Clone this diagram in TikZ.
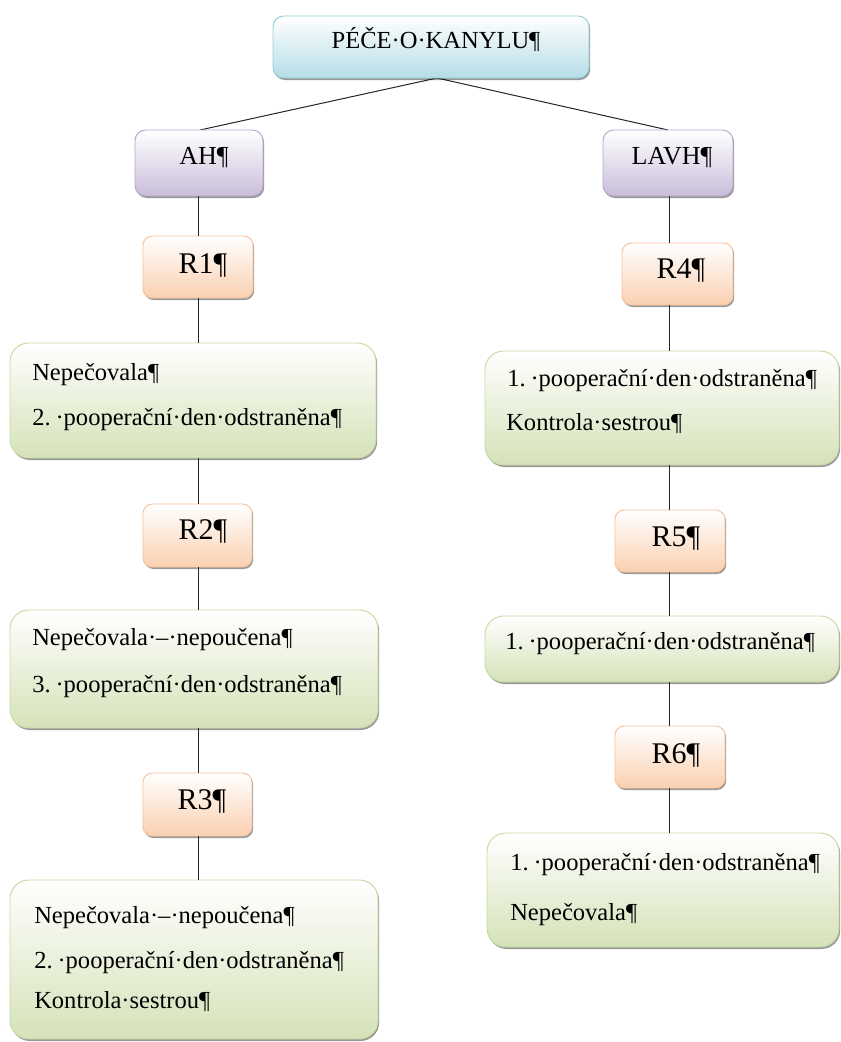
\documentclass[tikz,border=0pt]{standalone}
\usepackage{fontspec}
\setmainfont{Liberation Serif}
\usetikzlibrary{fit,shadows}

\definecolor{blueFill}{HTML}{B5DDE7}
\definecolor{blueLine}{HTML}{93CDDC}
\definecolor{lilacFill}{HTML}{C9BDDA}
\definecolor{lilacLine}{HTML}{B6A6CC}
\definecolor{peachFill}{HTML}{FAD0B0}
\definecolor{peachLine}{HTML}{F7C29C}
\definecolor{greenFill}{HTML}{D5E2B8}
\definecolor{greenLine}{HTML}{C6D9A0}

% a panel spanning two corner points, given in pixel units
\newcommand\panel[6]{%
  \path (#2,#3) coordinate (#1-nw) (#4,#5) coordinate (#1-se);
  \node[#6, fit=(#1-nw)(#1-se)] (#1) {};}

\begin{document}
\begin{tikzpicture}[x=0.75pt,y=-0.75pt,
  boxbase/.style={draw, line width=0.7pt, inner sep=0pt,
    drop shadow={shadow xshift=0.9pt, shadow yshift=-1.5pt, opacity=0.4, fill=black}},
  rootbox/.style={boxbase, rounded corners=8pt, draw=blueLine, top color=white, bottom color=blueFill},
  groupbox/.style={boxbase, rounded corners=8pt, draw=lilacLine, top color=white, bottom color=lilacFill},
  rbox/.style={boxbase, rounded corners=7pt, draw=peachLine, top color=white, bottom color=peachFill},
  notebox/.style={boxbase, rounded corners=14pt, draw=greenLine, top color=white, bottom color=greenFill},
  txt/.style={inner sep=0pt, font=\fontsize{18.4}{20}\selectfont},
  rtxt/.style={inner sep=0pt, anchor=base, font=\fontsize{22.5}{24}\selectfont},
  gtxt/.style={inner sep=0pt, anchor=base, font=\fontsize{19.5}{22}\selectfont},
  line/.style={draw=black!85, line width=0.75pt}
]
\useasboundingbox (0,0) rectangle (840,1042);

% spine positions of the two columns and the branching point under the title
\coordinate (spineL) at (198,0);
\coordinate (spineR) at (669,0);
\coordinate (hub) at (437,78);

% connectors (drawn first, panels sit on top)
\draw[line] (hub) -- (200,130) coordinate (ahTop);
\draw[line] (hub) -- (668,130) coordinate (lavhTop);

% boxes
\panel{root}{273}{16}{589}{78}{rootbox}
\panel{AH}{135}{130}{263}{196}{groupbox}
\panel{LAVH}{603}{130}{733}{196}{groupbox}

\panel{R1}{143}{236}{253}{298}{rbox}
\panel{N1}{10}{343}{376}{458}{notebox}
\panel{R2}{143}{504}{252}{567}{rbox}
\panel{N2}{10}{610}{378}{728}{notebox}
\panel{R3}{143}{773}{252}{836}{rbox}
\panel{N3}{10}{880}{378}{1039}{notebox}

\panel{R4}{622}{243}{733}{305}{rbox}
\panel{N4}{485}{351}{839}{465}{notebox}
\panel{R5}{615}{510}{725}{572}{rbox}
\panel{N5}{485}{616}{839}{682}{notebox}
\panel{R6}{615}{726}{725}{788}{rbox}
\panel{N6}{487}{833}{839}{947}{notebox}

% vertical connectors
\draw[line] (AH.south -| spineL) -- (R1.north -| spineL);
\draw[line] (R1.south -| spineL) -- (N1.north -| spineL);
\draw[line] (N1.south -| spineL) -- (R2.north -| spineL);
\draw[line] (R2.south -| spineL) -- (N2.north -| spineL);
\draw[line] (N2.south -| spineL) -- (R3.north -| spineL);
\draw[line] (R3.south -| spineL) -- (N3.north -| spineL);

\draw[line] (LAVH.south -| spineR) -- (R4.north -| spineR);
\draw[line] (R4.south -| spineR) -- (N4.north -| spineR);
\draw[line] (N4.south -| spineR) -- (R5.north -| spineR);
\draw[line] (R5.south -| spineR) -- (N5.north -| spineR);
\draw[line] (N5.south -| spineR) -- (R6.north -| spineR);
\draw[line] (R6.south -| spineR) -- (N6.north -| spineR);

% labels
\node[txt, anchor=base] (rootT) at (436,48) {PÉČE·O·KANYLU¶};
\node[gtxt] (AHT) at (204,164) {AH¶};
\node[gtxt] (LAVHT) at (672,164) {LAVH¶};

\node[rtxt] (R1T) at (203,273) {R1¶};
\node[rtxt] (R2T) at (203,539) {R2¶};
\node[rtxt] (R3T) at (202,809) {R3¶};
\node[rtxt] (R4T) at (681,278) {R4¶};
\node[rtxt] (R5T) at (676,546) {R5¶};
\node[rtxt] (R6T) at (676,763) {R6¶};

\node[txt, anchor=base west] (N1a) at (32,380) {Nepečovala¶};
\node[txt, anchor=base west] (N1b) at (32,425) {2.\kern0.2em·pooperační·den·odstraněna¶};

\node[txt, anchor=base west] (N2a) at (32,645) {Nepečovala·–·nepoučena¶};
\node[txt, anchor=base west] (N2b) at (32,692) {3.\kern0.2em·pooperační·den·odstraněna¶};

\node[txt, anchor=base west] (N3a) at (34,923) {Nepečovala·–·nepoučena¶};
\node[txt, anchor=base west] (N3b) at (34,968) {2.\kern0.2em·pooperační·den·odstraněna¶};
\node[txt, anchor=base west] (N3c) at (34,1008) {Kontrola·sestrou¶};

\node[txt, anchor=base west] (N4a) at (507,386) {1.\kern0.2em·pooperační·den·odstraněna¶};
\node[txt, anchor=base west] (N4b) at (506,430) {Kontrola·sestrou¶};

\node[txt, anchor=base west] (N5a) at (505,649) {1.\kern0.2em·pooperační·den·odstraněna¶};

\node[txt, anchor=base west] (N6a) at (510,870) {1.\kern0.2em·pooperační·den·odstraněna¶};
\node[txt, anchor=base west] (N6b) at (510,920) {Nepečovala¶};
\end{tikzpicture}
\end{document}
